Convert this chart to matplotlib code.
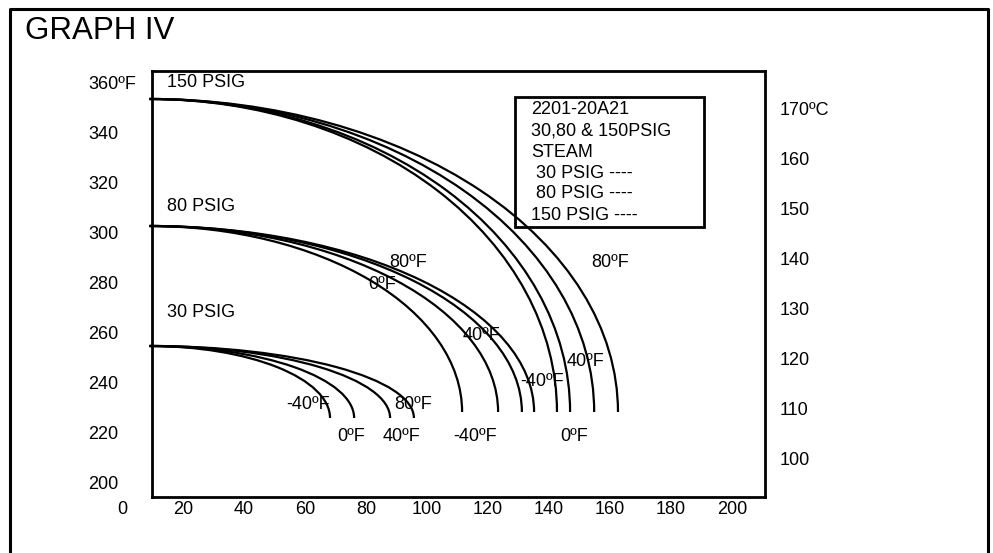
import matplotlib
matplotlib.use('Agg')
import matplotlib.pyplot as plt
from matplotlib.patches import Arc, Rectangle
from matplotlib.lines import Line2D

plt.rcParams['font.family'] = ['Liberation Sans', 'DejaVu Sans']

# --- data ---
pressures = ['30 PSIG', '80 PSIG', '150 PSIG']
start_temp_f = [255.6, 303.6, 354.4]      # where each family leaves the left edge
end_temp_f = [226.8, 229.2, 229.2]        # where the curves stop
curve_start_x = 9.0
ambient = ['-40ºF', '0ºF', '40ºF', '80ºF']
reach_30 = [68.2, 76.1, 87.9, 95.7]
reach_80 = [111.5, 123.3, 131.1, 135.1]
reach_150 = [142.6, 146.9, 154.8, 162.6]

x_ticks = [0, 20, 40, 60, 80, 100, 120, 140, 160, 180, 200]
y_ticks_f = [360, 340, 320, 300, 280, 260, 240, 220, 200]
y_ticks_c = [170, 160, 150, 140, 130, 120, 110, 100]

legend_lines = ['2201-20A21', '30,80 & 150PSIG', 'STEAM',
                ' 30 PSIG ----', ' 80 PSIG ----', '150 PSIG ----']

# label spots for the ambient temperatures (data coords)
labels_30 = [('-40ºF', 61.0, 232.0), ('0ºF', 75.1, 219.2),
             ('40ºF', 91.5, 219.2), ('80ºF', 95.4, 232.0)]
labels_80 = [('-40ºF', 115.7, 219.2), ('0ºF', 85.2, 280.0),
             ('40ºF', 118.0, 259.6), ('80ºF', 93.8, 288.8)]
labels_150 = [('-40ºF', 137.7, 241.2), ('0ºF', 148.2, 219.2),
              ('40ºF', 152.1, 249.2), ('80ºF', 160.0, 288.8)]

W, H = 993, 553
FS = 13


def fx(px):
    return px / W


def fy(py):
    return 1 - py / H


fig = plt.figure(figsize=(W / 100, H / 100), dpi=100)

# outer frame (open at the bottom)
fig.add_artist(Line2D([fx(10), fx(10), fx(988), fx(988)],
                      [fy(560), fy(9), fy(9), fy(560)],
                      transform=fig.transFigure, color='black', lw=2.2))
fig.text(fx(25), fy(39), 'GRAPH IV', fontsize=22.5, ha='left', va='baseline')

ax = fig.add_axes([fx(152), fy(497), (765 - 152) / W, (497 - 71) / H])
ax.set_xlim(9.84, 210.8)
ax.set_ylim(195.2, 365.6)
ax.set_xticks([])
ax.set_yticks([])
for s in ax.spines.values():
    s.set_linewidth(2)

ax2 = ax.twinx()
ax2.set_ylim(92.6, 177.8)
ax2.set_yticks([])
for s in ax2.spines.values():
    s.set_visible(False)

# curves
for start, end, reaches in zip(start_temp_f, end_temp_f, [reach_30, reach_80, reach_150]):
    for r in reaches:
        ax.add_patch(Arc((curve_start_x, end), 2 * (r - curve_start_x), 2 * (start - end),
                         theta1=0, theta2=90, lw=1.6, color='black', clip_on=False))

for lbls in [labels_30, labels_80, labels_150]:
    for txt, x, y in lbls:
        ax.text(x, y, txt, fontsize=FS, ha='center', va='center')

# family labels
for name, y in zip(pressures, [268.8, 311.2, 360.8]):
    ax.text(14.75, y, name, fontsize=FS, ha='left', va='center')

# axis labels
for v in x_ticks:
    ax.text(v, 190.0, str(v), fontsize=FS, ha='center', va='center', clip_on=False)
for v in y_ticks_f:
    ax.text(-11.1, v, f'{v}ºF' if v == 360 else str(v), fontsize=FS,
            ha='left', va='center', clip_on=False)
for v in y_ticks_c:
    ax2.text(215.7, v, f'{v}ºC' if v == 170 else str(v), fontsize=FS,
             ha='left', va='center', clip_on=False)

# legend box
fig.add_artist(Rectangle((fx(515), fy(227)), (704 - 515) / W, (227 - 97) / H,
                         transform=fig.transFigure, fill=False, lw=2, color='black'))
for i, line in enumerate(legend_lines):
    fig.text(fx(531), fy(110 + i * 21), line, fontsize=FS, ha='left', va='center')

fig.savefig('out.png', dpi=100)
